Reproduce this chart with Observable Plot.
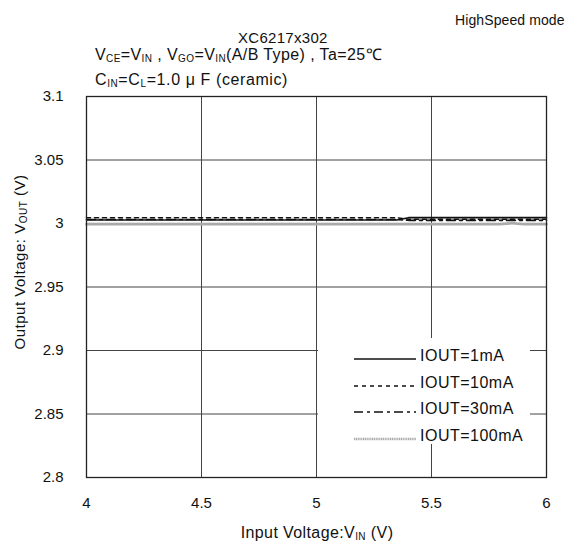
<!DOCTYPE html>
<html><head><meta charset="utf-8">
<script src="https://cdn.jsdelivr.net/npm/d3@7"></script>
<script src="https://cdn.jsdelivr.net/npm/@observablehq/plot@0.6"></script>
<style>
body{margin:0;background:#fff;font-family:"Liberation Sans",Arial,sans-serif;color:#111;}
#wrap{position:relative;width:567px;height:543px;overflow:hidden;}
.t{position:absolute;white-space:nowrap;font-size:16px;line-height:1;}
sub{font-size:10px;vertical-align:-2px;line-height:0;}
#legend{position:absolute;left:318px;top:338px;width:212px;height:106px;background:#fff;}
#legend .row{position:absolute;left:0;height:20px;}
#legend svg{position:absolute;left:36px;top:4px;}
#legend span{position:absolute;left:102px;top:-3px;font-size:16px;letter-spacing:0.5px;white-space:nowrap;}
</style></head>
<body><div id="wrap"></div>
<script>
const seriesNames = ["IOUT=1mA","IOUT=10mA","IOUT=30mA","IOUT=100mA"];
const vin = [4, 4.5, 5, 5.35, 5.4, 5.8, 5.85, 5.9, 6];
const vout1mA   = [3.0027, 3.0027, 3.0027, 3.0027, 3.0046, 3.0046, 3.0046, 3.0046, 3.0046];
const vout10mA  = [3.0045, 3.0045, 3.0045, 3.0045, 3.0034, 3.0034, 3.0034, 3.0034, 3.0034];
const vout30mA  = [3.0031, 3.0031, 3.0031, 3.0031, 3.0025, 3.0025, 3.0025, 3.0025, 3.0025];
const vout100mA = [2.9995, 2.9995, 2.9995, 2.9995, 2.9995, 2.9995, 3.0002, 2.9995, 2.9995];
const xTicks = [4, 4.5, 5, 5.5, 6];
const yTicks = [2.8, 2.85, 2.9, 2.95, 3, 3.05, 3.1];

const styles = [
  {stroke:"#111", strokeWidth:1.6, dash:null},
  {stroke:"#111", strokeWidth:1.6, dash:"4,4"},
  {stroke:"#111", strokeWidth:1.6, dash:"9,4,3,4"},
  {stroke:"#aaa", strokeWidth:2.6, dash:"1.2,0.6"}
];
const allVals = [vout1mA, vout10mA, vout30mA, vout100mA];
const data = allVals.map((vals, i) => vin.map((v, j) => ({x: v, y: vals[j], s: seriesNames[i]})));

const lineMarks = [3,1,2,0].map(i => Plot.line(data[i], {
  x:"x", y:"y", stroke: styles[i].stroke, strokeWidth: styles[i].strokeWidth,
  strokeDasharray: styles[i].dash || undefined
}));

const chart = Plot.plot({
  width: 567, height: 543,
  marginLeft: 86, marginRight: 21, marginTop: 96, marginBottom: 66,
  style: {fontFamily: '"Liberation Sans", Arial, sans-serif', fontSize: "15px", color: "#111", background: "transparent"},
  x: {domain: [4, 6], ticks: xTicks, tickFormat: d => String(d), label: null, tickSize: 0, tickPadding: 20},
  y: {domain: [2.8, 3.1], ticks: yTicks, tickFormat: d => String(d), label: null, tickSize: 0, tickPadding: 23},
  marks: [
    Plot.gridX(xTicks, {stroke: "#444", strokeOpacity: 1, strokeWidth: 1}),
    Plot.gridY(yTicks, {stroke: "#444", strokeOpacity: 1, strokeWidth: 1}),
    ...lineMarks,
    Plot.frame({stroke: "#222", strokeWidth: 1.3})
  ]
});
const wrap = document.getElementById("wrap");
chart.style.position = "absolute"; chart.style.left = "0"; chart.style.top = "0";
wrap.appendChild(chart);

function addText(html, left, top, extra) {
  const d = document.createElement("div");
  d.className = "t"; d.innerHTML = html;
  d.style.left = left + "px"; d.style.top = top + "px";
  if (extra) Object.assign(d.style, extra);
  wrap.appendChild(d);
  return d;
}
addText("HighSpeed mode", 455, 13, {fontSize: "14px", letterSpacing: "0.1px"});
addText("XC6217x302", 238, 30, {fontSize: "15px", letterSpacing: "0.3px"});
addText("V<sub>CE</sub>=V<sub>IN</sub> , V<sub>GO</sub>=V<sub>IN</sub>(A/B Type) , Ta=25℃", 95, 46.5, {letterSpacing: "0.4px"});
addText("C<sub>IN</sub>=C<sub>L</sub>=1.0 μ F (ceramic)", 95, 71.5, {letterSpacing: "0.6px"});
addText("Input Voltage:V<sub>IN</sub> (V)", 317, 524.5, {transform: "translateX(-50%)", letterSpacing: "0.4px"});
addText("Output Voltage: V<sub>OUT</sub> (V)", 19, 262, {transform: "translate(-50%,-50%) rotate(-90deg)", fontSize: "15px", letterSpacing: "0.5px"});

// legend
const lg = document.createElement("div"); lg.id = "legend"; wrap.appendChild(lg);
seriesNames.forEach((name, i) => {
  const row = document.createElement("div"); row.className = "row";
  row.style.top = (12 + i * 26.5) + "px"; row.style.width = "212px";
  const st = styles[i];
  row.innerHTML = `<svg width="62" height="10"><line x1="0" y1="5" x2="62" y2="5" stroke="${st.stroke}" stroke-width="${st.strokeWidth}" ${st.dash ? `stroke-dasharray="${st.dash}"` : ""}/></svg><span>${name}</span>`;
  lg.appendChild(row);
});
</script></body></html>
